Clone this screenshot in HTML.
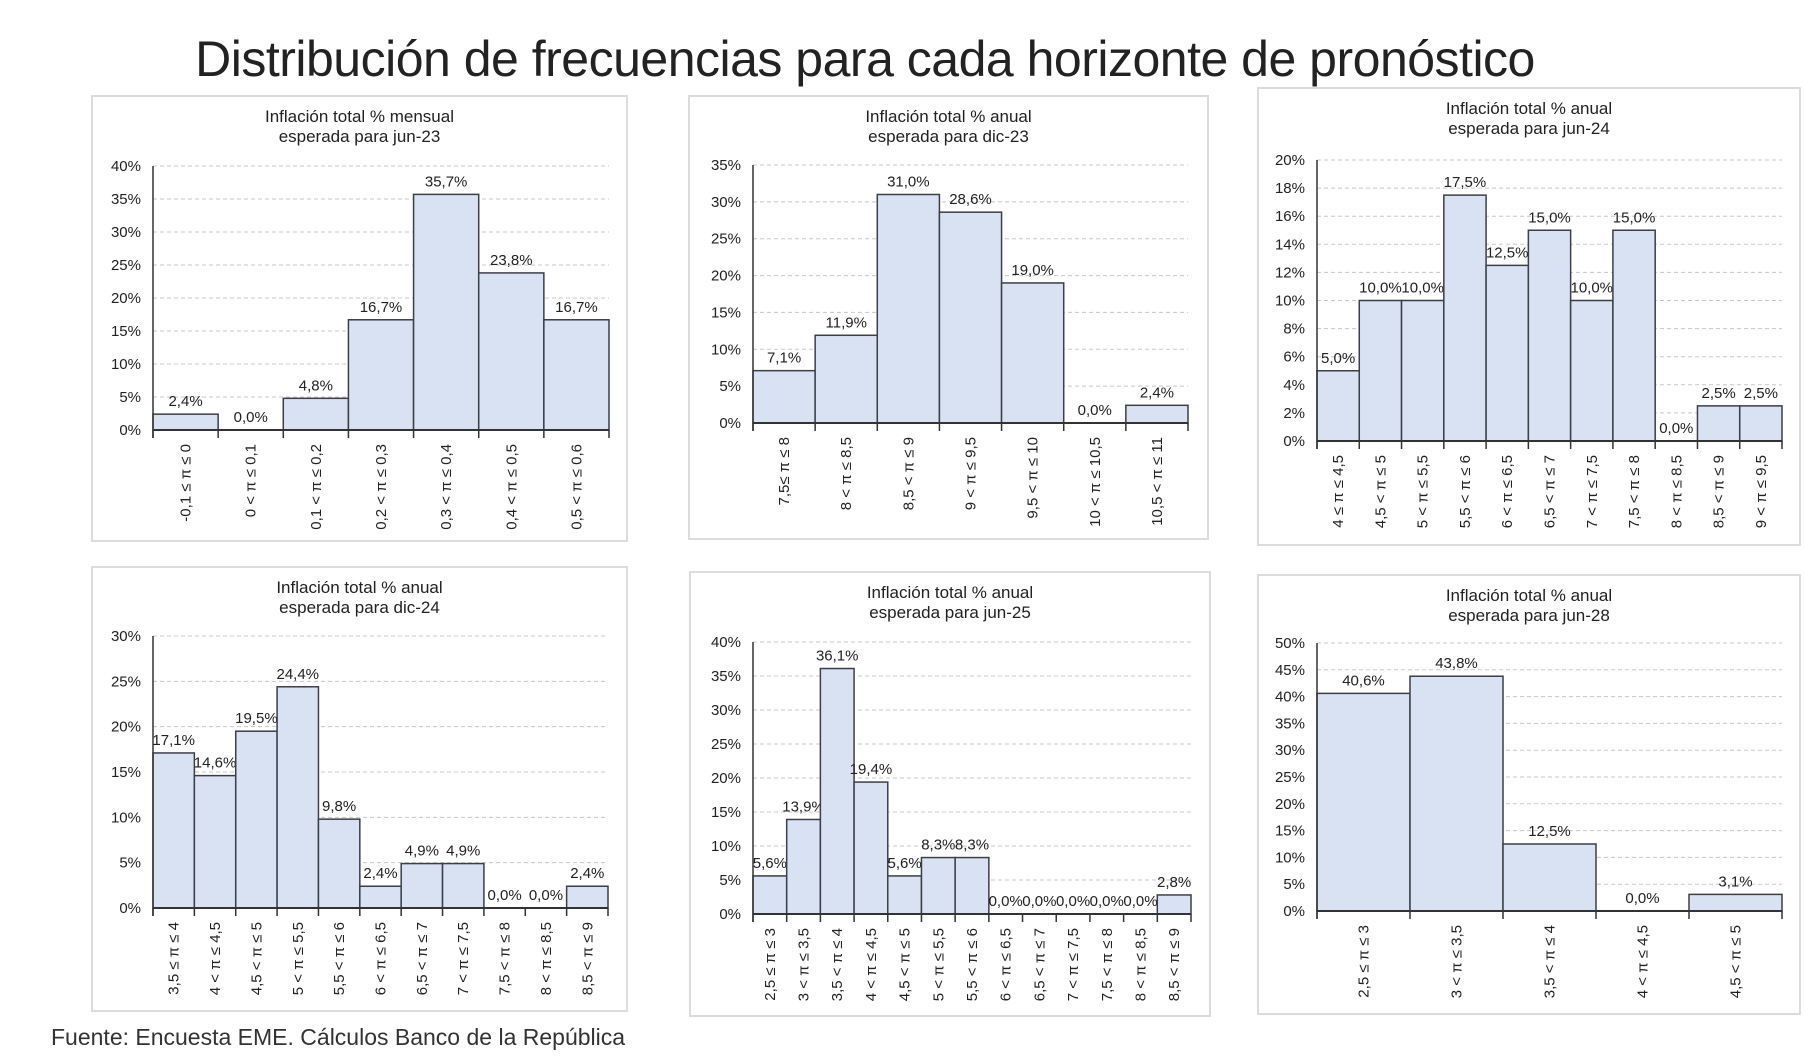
<!DOCTYPE html>
<html><head><meta charset="utf-8">
<style>
body{margin:0;background:#fff;width:1804px;height:1062px;overflow:hidden;font-family:"Liberation Sans",sans-serif;}
#title{position:absolute;left:-37px;width:1804px;top:30px;text-align:center;font-size:50px;color:#222;letter-spacing:-0.5px;}
#src{position:absolute;left:51px;top:1024px;font-size:23px;color:#333;}
svg{position:absolute;left:0;top:0;}
</style></head>
<body>
<div id="title">Distribución de frecuencias para cada horizonte de pronóstico</div>
<svg id="chart" width="1804" height="1062"></svg>
<div id="src">Fuente: Encuesta EME. Cálculos Banco de la República</div>
<script>
const cats1=["-0,1 ≤  π ≤ 0","0 < π ≤ 0,1","0,1 < π ≤ 0,2","0,2 < π ≤ 0,3","0,3 < π ≤ 0,4","0,4 < π ≤ 0,5","0,5 < π ≤ 0,6"];
const vals1=[2.4,0.0,4.8,16.7,35.7,23.8,16.7];
const ticks1=[0,5,10,15,20,25,30,35,40];
const cats2=["7,5≤  π ≤ 8","8 < π ≤ 8,5","8,5 < π ≤ 9","9 < π ≤ 9,5","9,5 < π ≤ 10","10 < π ≤ 10,5","10,5 < π ≤ 11"];
const vals2=[7.1,11.9,31.0,28.6,19.0,0.0,2.4];
const ticks2=[0,5,10,15,20,25,30,35];
const cats3=["4 ≤  π ≤ 4,5","4,5 < π ≤ 5","5 < π ≤ 5,5","5,5 < π ≤ 6","6 < π ≤ 6,5","6,5 < π ≤ 7","7 < π ≤ 7,5","7,5 < π ≤ 8","8 < π ≤ 8,5","8,5 < π ≤ 9","9 < π ≤ 9,5"];
const vals3=[5.0,10.0,10.0,17.5,12.5,15.0,10.0,15.0,0.0,2.5,2.5];
const ticks3=[0,2,4,6,8,10,12,14,16,18,20];
const cats4=["3,5 ≤  π ≤ 4","4 < π ≤ 4,5","4,5 < π ≤ 5","5 < π ≤ 5,5","5,5 < π ≤ 6","6 < π ≤ 6,5","6,5 < π ≤ 7","7 < π ≤ 7,5","7,5 < π ≤ 8","8 < π ≤ 8,5","8,5 < π ≤ 9"];
const vals4=[17.1,14.6,19.5,24.4,9.8,2.4,4.9,4.9,0.0,0.0,2.4];
const ticks4=[0,5,10,15,20,25,30];
const cats5=["2,5 ≤  π ≤ 3","3 < π ≤ 3,5","3,5 < π ≤ 4","4 < π ≤ 4,5","4,5 < π ≤ 5","5 < π ≤ 5,5","5,5 < π ≤ 6","6 < π ≤ 6,5","6,5 < π ≤ 7","7 < π ≤ 7,5","7,5 < π ≤ 8","8 < π ≤ 8,5","8,5 < π ≤ 9"];
const vals5=[5.6,13.9,36.1,19.4,5.6,8.3,8.3,0.0,0.0,0.0,0.0,0.0,2.8];
const ticks5=[0,5,10,15,20,25,30,35,40];
const cats6=["2,5 ≤  π ≤ 3","3 < π ≤ 3,5","3,5 < π ≤ 4","4 < π ≤ 4,5","4,5 < π ≤ 5"];
const vals6=[40.6,43.8,12.5,0.0,3.1];
const ticks6=[0,5,10,15,20,25,30,35,40,45,50];

const NS="http://www.w3.org/2000/svg";
const svg=document.getElementById('chart');
function el(tag,attrs,parent){const e=document.createElementNS(NS,tag);for(const k in attrs)e.setAttribute(k,attrs[k]);(parent||svg).appendChild(e);return e;}

function drawChart(p,cats,vals,ticks,t1,t2,id){
  const g=el('g',{});
  
  
  const frame=el('rect',{x:p.bx,y:p.by,width:p.bw,height:p.bh,fill:'#fff',stroke:'#dcdcdc','stroke-width':2},g);
  
  
  const cx=p.bx+p.bw/2;
  const tt=el('text',{x:cx,y:p.by+26,'text-anchor':'middle','font-size':17,fill:'#222'},g);
  tt.textContent=t1;
  
  
  const tt2=el('text',{x:cx,y:p.by+46,'text-anchor':'middle','font-size':17,fill:'#222'},g);
  tt2.textContent=t2;
  
  
  const maxT=ticks[ticks.length-1];
  const y=v=>p.y0-(v/maxT)*(p.y0-p.yTop);
  const bw=(p.x1-p.x0)/cats.length;
  const x=i=>p.x0+i*bw;
  ticks.forEach(t=>{
    if(t>0){const gl=el('line',{x1:p.x0,x2:p.x1,y1:y(t),y2:y(t),stroke:'#c8c8c8','stroke-dasharray':'4,3','stroke-width':1},g);
    
    }
    const tl=el('text',{x:p.x0-12,y:y(t)+5,'text-anchor':'end','font-size':15,fill:'#222'},g);
    tl.textContent=t+'%';
    
    
  });
  vals.forEach((v,i)=>{
    const r=el('rect',{x:x(i),y:y(v),width:bw,height:p.y0-y(v),fill:'#d9e2f3',stroke:'#3a3f48','stroke-width':1.5},g);
    
    
    const vl=el('text',{x:x(i)+bw/2,y:y(v)-8,'text-anchor':'middle','font-size':15,fill:'#222'},g);
    vl.textContent=v.toFixed(1).replace('.',',')+'%';
    
    
    const cl=el('text',{'text-anchor':'end','font-size':15,fill:'#222',transform:'translate('+(x(i)+bw/2+5)+','+(p.y0+14)+') rotate(-90)'},g);
    cl.textContent=cats[i];
    
    
  });
  for(let i=0;i<=cats.length;i++){
    const tk=el('line',{x1:x(i),x2:x(i),y1:p.y0,y2:p.y0+8,stroke:'#333','stroke-width':1.5},g);
    
    
  }
  const ya=el('line',{x1:p.x0,x2:p.x0,y1:p.yTop,y2:p.y0+8,stroke:'#333','stroke-width':1.5},g);
  
  
  const xa=el('line',{x1:p.x0,x2:p.x1,y1:p.y0,y2:p.y0,stroke:'#333','stroke-width':2},g);
  
  
}
drawChart({bx:92,by:96,bw:535,bh:445,x0:153,x1:609,yTop:166,y0:430},cats1,vals1,ticks1,'Inflación  total % mensual','esperada para jun-23','chart-jun-23');
drawChart({bx:689,by:96,bw:519,bh:443,x0:753,x1:1188,yTop:165,y0:423},cats2,vals2,ticks2,'Inflación  total % anual','esperada para dic-23','chart-dic-23');
drawChart({bx:1258,by:88,bw:542,bh:457,x0:1317,x1:1782,yTop:160,y0:441},cats3,vals3,ticks3,'Inflación  total % anual','esperada para jun-24','chart-jun-24');
drawChart({bx:92,by:567,bw:535,bh:444,x0:153,x1:608,yTop:636,y0:908},cats4,vals4,ticks4,'Inflación  total % anual','esperada para dic-24','chart-dic-24');
drawChart({bx:690,by:572,bw:520,bh:444,x0:753,x1:1191,yTop:642,y0:914},cats5,vals5,ticks5,'Inflación  total % anual','esperada para jun-25','chart-jun-25');
drawChart({bx:1258,by:575,bw:542,bh:439,x0:1317,x1:1782,yTop:643,y0:911},cats6,vals6,ticks6,'Inflación  total % anual','esperada para jun-28','chart-jun-28');
</script>
</body></html>
